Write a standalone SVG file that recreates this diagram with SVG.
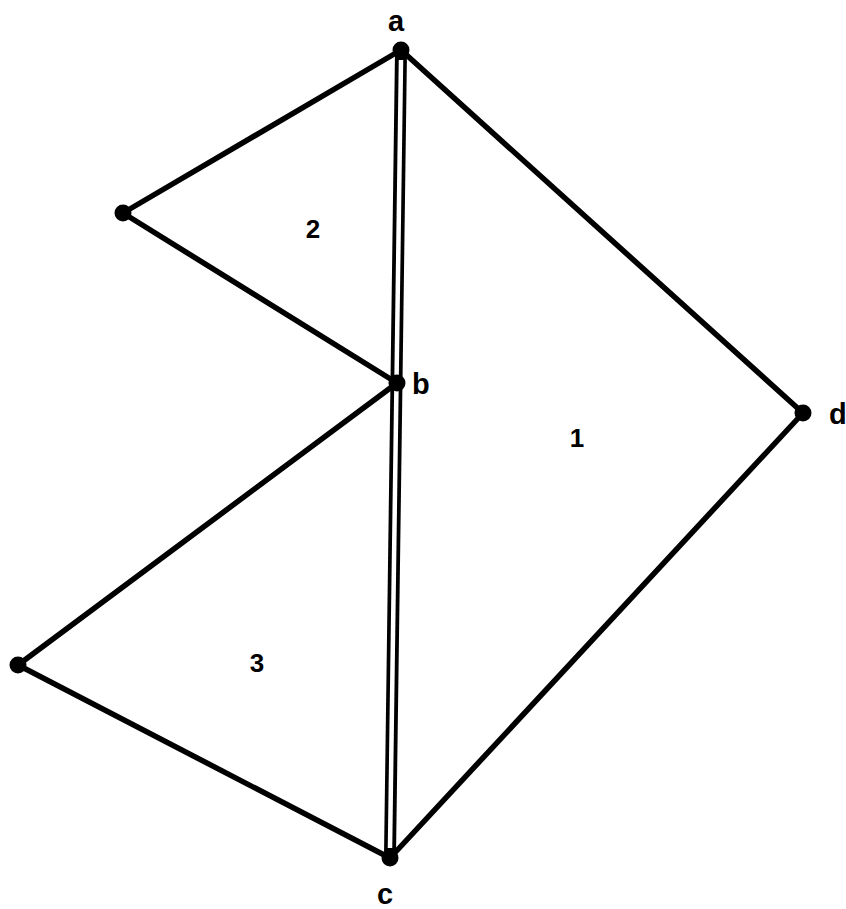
<svg xmlns="http://www.w3.org/2000/svg" width="846" height="909" viewBox="0 0 846 909">
<style>
.e{stroke:#000;stroke-width:5.5;stroke-linecap:round;fill:none}
.dbl{stroke:#000;stroke-width:12;fill:none}
.dbw{stroke:#fff;stroke-width:4.5;fill:none}
.n{fill:#000}
.lbl{font-family:"Liberation Sans",Arial,sans-serif;font-weight:bold;font-size:29px;fill:#000}
.num{font-family:"Liberation Sans",Arial,sans-serif;font-weight:bold;font-size:26px;fill:#000;text-anchor:middle}
</style>
<rect width="846" height="909" fill="#fff"/>
<g id="connectors">
<line class="e" x1="401" y1="50" x2="123" y2="213"/>
<line class="e" x1="123" y1="213" x2="397" y2="383"/>
<line class="e" x1="397" y1="383" x2="18" y2="665"/>
<line class="e" x1="18" y1="665" x2="390" y2="858"/>
<line class="e" x1="401" y1="50" x2="803" y2="413"/>
<line class="e" x1="803" y1="413" x2="390" y2="858"/>
<line class="dbl" x1="401" y1="52" x2="390" y2="856"/>
<line class="dbw" x1="401" y1="60" x2="390" y2="848"/>
</g>
<g id="node-a"><circle class="n" cx="401" cy="50" r="8.5"/><text class="lbl" x="388" y="31">a</text></g>
<g id="node-b"><circle class="n" cx="397" cy="383" r="8.5"/><text class="lbl" x="412" y="394">b</text></g>
<g id="node-c"><circle class="n" cx="390" cy="858" r="8.5"/><text class="lbl" x="377" y="904">c</text></g>
<g id="node-d"><circle class="n" cx="803" cy="413" r="8.5"/><text class="lbl" x="829" y="424">d</text></g>
<g id="node-e"><circle class="n" cx="123" cy="213" r="8.5"/></g>
<g id="node-f"><circle class="n" cx="18" cy="665" r="8.5"/></g>
<g id="faces">
<text class="num" x="313" y="238">2</text>
<text class="num" x="577" y="447">1</text>
<text class="num" x="257" y="672">3</text>
</g>
</svg>
